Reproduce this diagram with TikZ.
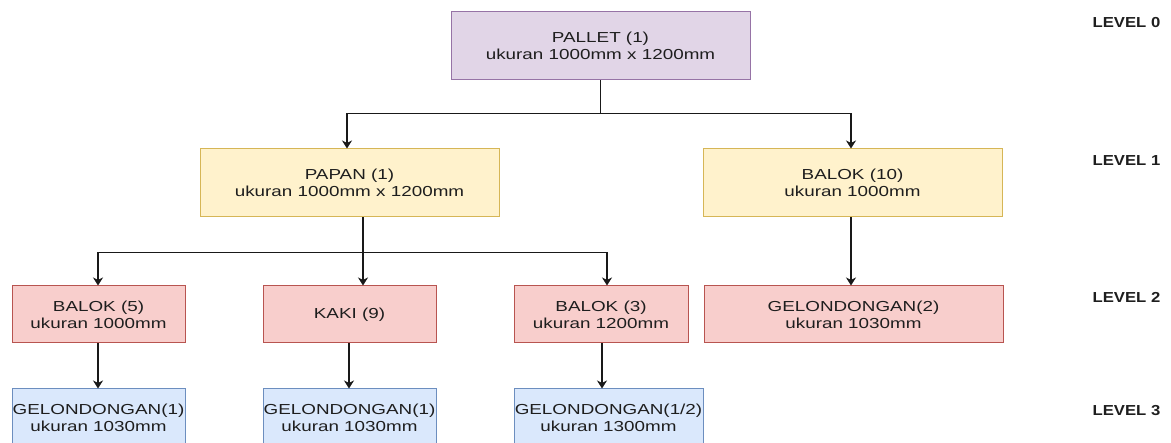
\documentclass[tikz,border=0pt]{standalone}
\usepackage{fontspec}
\setmainfont{Liberation Sans}
\newfontfamily\boxfam[FakeStretch=1.3]{Liberation Sans}
\newfontfamily\lvlfam[FakeStretch=1.15]{Liberation Sans}
\usetikzlibrary{arrows.meta,calc}
\definecolor{pfill}{HTML}{E1D5E7}\definecolor{pline}{HTML}{9673A6}
\definecolor{yfill}{HTML}{FFF2CC}\definecolor{yline}{HTML}{D6B656}
\definecolor{rfill}{HTML}{F8CECC}\definecolor{rline}{HTML}{B85450}
\definecolor{bfill}{HTML}{DAE8FC}\definecolor{bline}{HTML}{6C8EBF}
\definecolor{txt}{HTML}{1E1E1E}
\tikzset{
  box/.style={draw, line width=1pt, align=center, inner sep=0pt, text=txt,
    font=\boxfam\fontsize{14.5pt}{17pt}\selectfont},
  purplebox/.style={box, fill=pfill, draw=pline},
  yellowbox/.style={box, fill=yfill, draw=yline},
  redbox/.style={box, fill=rfill, draw=rline},
  bluebox/.style={box, fill=bfill, draw=bline},
  conn/.style={line width=1.3pt, draw=black!90},
  arr/.style={conn, -{Stealth[length=8pt,width=10pt,inset=2.5pt]}},
  lvl/.style={text=txt, inner sep=0pt, font=\lvlfam\bfseries\fontsize{14.5pt}{17pt}\selectfont}
}
\begin{document}
\begin{tikzpicture}[x=1pt,y=-1pt]
\useasboundingbox (0,0) rectangle (1171,443);
\clip (0,0) rectangle (1171,443);
% level 0
\node[purplebox, minimum width=299pt, minimum height=68pt] (pallet) at (600.5,46) {PALLET (1)\\ukuran 1000mm x 1200mm};
% level 1
\node[yellowbox, minimum width=299pt, minimum height=68pt] (papan) at (349.5,183) {PAPAN (1)\\ukuran 1000mm x 1200mm};
\node[yellowbox, minimum width=299pt, minimum height=68pt] (balok10) at (852.5,183) {BALOK (10)\\ukuran 1000mm};
% level 2
\node[redbox, minimum width=173pt, minimum height=57pt] (balok5) at (98.5,314.5) {BALOK (5)\\ukuran 1000mm};
\node[redbox, minimum width=173pt, minimum height=57pt] (kaki) at (349.5,314.5) {KAKI (9)};
\node[redbox, minimum width=174pt, minimum height=57pt] (balok3) at (601,314.5) {BALOK (3)\\ukuran 1200mm};
\node[redbox, minimum width=299pt, minimum height=57pt] (gel2) at (853.5,314.5) {GELONDONGAN(2)\\ukuran 1030mm};
% level 3
\node[bluebox, minimum width=173pt, minimum height=57pt] (gela) at (98.5,417.5) {GELONDONGAN(1)\\ukuran 1030mm};
\node[bluebox, minimum width=173pt, minimum height=57pt] (gelb) at (349.5,417.5) {GELONDONGAN(1)\\ukuran 1030mm};
\node[bluebox, minimum width=189pt, minimum height=57pt] (gelc) at (608.5,417.5) {GELONDONGAN(1/2)\\ukuran 1300mm};
% level labels
\node[lvl] (l0) at (1126.5,22.5) {LEVEL 0};
\node[lvl] (l1) at (1126.5,160.5) {LEVEL 1};
\node[lvl] (l2) at (1126.5,297.5) {LEVEL 2};
\node[lvl] (l3) at (1126.5,411) {LEVEL 3};
% connectors from pallet
\coordinate (j0) at ($(pallet.south)+(0,33)$);
\draw[arr] (pallet.south) -- (j0) -| ($(papan.north)+(-2.5,0)$);
\draw[arr] (j0) -| ($(balok10.north)+(-1.5,0)$);
% connectors from papan
\coordinate (ps) at ($(papan.south)+(13.5,0)$);
\coordinate (j1) at ($(ps)+(0,35)$);
\draw[arr] (ps) -- ($(kaki.north)+(13.5,0)$);
\draw[arr] (j1) -| ($(balok5.north)+(-0.5,0)$);
\draw[arr] (j1) -| ($(balok3.north)+(6,0)$);
% balok10 to gel2
\draw[arr] ($(balok10.south)+(-1.5,0)$) -- ($(gel2.north)+(-2.5,0)$);
% level 2 to level 3
\draw[arr] ($(balok5.south)+(-0.5,0)$) -- ($(gela.north)+(-0.5,0)$);
\draw[arr] ($(kaki.south)+(-0.5,0)$) -- ($(gelb.north)+(-0.5,0)$);
\draw[arr] ($(balok3.south)+(1,0)$) -- ($(gelc.north)+(-6.5,0)$);
\end{tikzpicture}
\end{document}
